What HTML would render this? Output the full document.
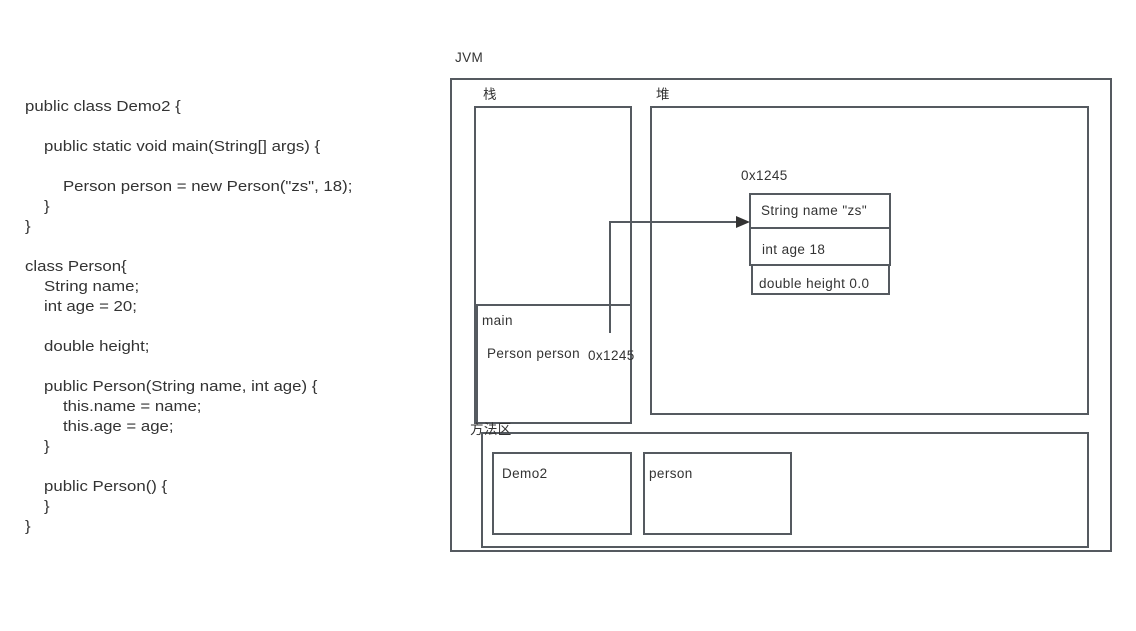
<!DOCTYPE html>
<html><head><meta charset="utf-8"><style>
html,body{margin:0;padding:0;background:#fff;}
svg{display:block}
text{font-family:"Liberation Sans","Noto Sans CJK SC",sans-serif;fill:#333;}
</style></head><body>
<svg width="1136" height="631" viewBox="0 0 1136 631" xmlns="http://www.w3.org/2000/svg">
<g font-size="15" transform="translate(25,0) scale(1.12,1) translate(-25,0)">
<text x="25" y="111">public class Demo2 {</text>
<text x="42" y="151">public static void main(String[] args) {</text>
<text x="58.9" y="191">Person person = new Person("zs", 18);</text>
<text x="42" y="211">}</text>
<text x="25" y="231">}</text>
<text x="25" y="271">class Person{</text>
<text x="42" y="291">String name;</text>
<text x="42" y="311">int age = 20;</text>
<text x="42" y="351">double height;</text>
<text x="42" y="391">public Person(String name, int age) {</text>
<text x="58.9" y="411">this.name = name;</text>
<text x="58.9" y="431">this.age = age;</text>
<text x="42" y="451">}</text>
<text x="42" y="491">public Person() {</text>
<text x="42" y="511">}</text>
<text x="25" y="531">}</text>
</g>
<g fill="none" stroke="#555a60" stroke-width="2">
<rect x="451" y="79" width="660" height="472"/>
<rect x="475" y="107" width="156" height="316"/>
<rect x="651" y="107" width="437" height="307"/>
<rect x="477" y="305" width="154" height="118"/>
<rect x="482" y="433" width="606" height="114"/>
<rect x="493" y="453" width="138" height="81"/>
<rect x="644" y="453" width="147" height="81"/>
<rect x="750" y="194" width="140" height="34"/>
<rect x="750" y="228" width="140" height="37"/>
<rect x="752" y="265" width="137" height="29"/>
<polyline points="610,333 610,222 740,222"/>
</g>
<polygon points="736,216 750,222 736,228" fill="#333"/>
<g font-size="13.5" letter-spacing="0.4">
<text x="455" y="62">JVM</text>
<text x="483" y="99">栈</text>
<text x="656" y="99">堆</text>
<text x="741" y="180">0x1245</text>
<text x="761" y="215">String  name "zs"</text>
<text x="762" y="254">int age 18</text>
<text x="759" y="288">double height 0.0</text>
<text x="482" y="325">main</text>
<text x="487" y="358">Person  person</text>
<text x="588" y="360">0x1245</text>
<text x="470" y="434">方法区</text>
<text x="502" y="478">Demo2</text>
<text x="649" y="478">person</text>
</g>
</svg>
</body></html>
